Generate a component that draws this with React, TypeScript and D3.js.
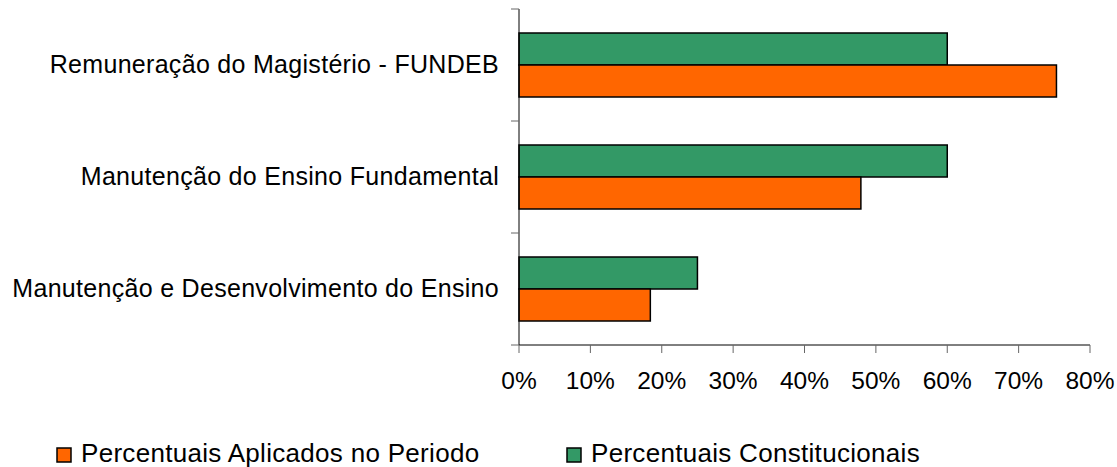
import React from 'react';
import * as d3 from 'd3';

// Data (top to bottom)
const categories = [
  'Remuneração do Magistério - FUNDEB',
  'Manutenção do Ensino Fundamental',
  'Manutenção e Desenvolvimento do Ensino',
];
const seriesNames = ['Percentuais Constitucionais', 'Percentuais Aplicados no Periodo'];
const constitucionais = [60, 60, 25];
const aplicados = [75.3, 47.9, 18.4];
const xTicks = [0, 10, 20, 30, 40, 50, 60, 70, 80];
const legendOrder = ['Percentuais Aplicados no Periodo', 'Percentuais Constitucionais'];

const colors: Record<string, string> = {
  'Percentuais Constitucionais': '#339966',
  'Percentuais Aplicados no Periodo': '#FF6600',
};

const W = 1117;
const H = 467;
const margin = { top: 9, right: 27, bottom: 122, left: 519 };
const font = '"Liberation Sans", Arial, sans-serif';

export default function App() {
  const width = 1090 - margin.left;
  const height = 345 - margin.top;

  const x = d3.scaleLinear().domain([0, 80]).range([0, width]);
  const y = d3.scaleBand().domain(categories).range([0, height]);
  const ySub = d3
    .scaleBand()
    .domain(seriesNames)
    .range([0, y.bandwidth()])
    .paddingOuter(0.75);

  const values: Record<string, number[]> = {
    'Percentuais Constitucionais': constitucionais,
    'Percentuais Aplicados no Periodo': aplicados,
  };

  const boundaries = [0, ...categories.map(c => (y(c) as number) + y.bandwidth())];

  return (
    <svg
      width={W}
      height={H}
      style={{ position: 'absolute', left: 0, top: 0, background: '#fff' }}
      fontFamily={font}
    >
      <g transform={`translate(${margin.left},${margin.top})`}>
        {/* bars */}
        {categories.map((c, i) => (
          <g key={c} transform={`translate(0,${y(c)})`}>
            {seriesNames.map(s => (
              <rect
                key={s}
                x={0}
                y={ySub(s)}
                width={x(values[s][i])}
                height={ySub.bandwidth()}
                fill={colors[s]}
                stroke="#000"
                strokeWidth={1.5}
              />
            ))}
          </g>
        ))}

        {/* y axis */}
        <line x1={0} x2={0} y1={0} y2={height} stroke="#000" strokeWidth={1} />
        {boundaries.map((b, i) => (
          <line key={i} x1={-8} x2={0} y1={b} y2={b} stroke="#666" strokeWidth={1} />
        ))}
        {categories.map(c => (
          <text
            key={c}
            x={-20}
            y={(y(c) as number) + y.bandwidth() / 2}
            dy="0.3em"
            textAnchor="end"
            fontSize={25}
            letterSpacing={0.3}
            fill="#000"
          >
            {c}
          </text>
        ))}

        {/* x axis */}
        <line x1={0} x2={width} y1={height} y2={height} stroke="#000" strokeWidth={1} />
        {xTicks.map(t => (
          <g key={t} transform={`translate(${x(t)},${height})`}>
            <line y1={0} y2={8} stroke="#666" strokeWidth={1} />
            <text y={44} textAnchor="middle" fontSize={24.5} fill="#000">
              {t}%
            </text>
          </g>
        ))}
      </g>

      {/* legend */}
      {legendOrder.map((s, i) => {
        const lx = i === 0 ? 57 : 567;
        return (
          <g key={s} transform={`translate(${lx},448)`}>
            <rect x={0} y={0} width={14} height={14} fill={colors[s]} stroke="#000" strokeWidth={1.5} />
            <text x={24} y={14} fontSize={26} letterSpacing={0.3} fill="#000">
              {s}
            </text>
          </g>
        );
      })}
    </svg>
  );
}
